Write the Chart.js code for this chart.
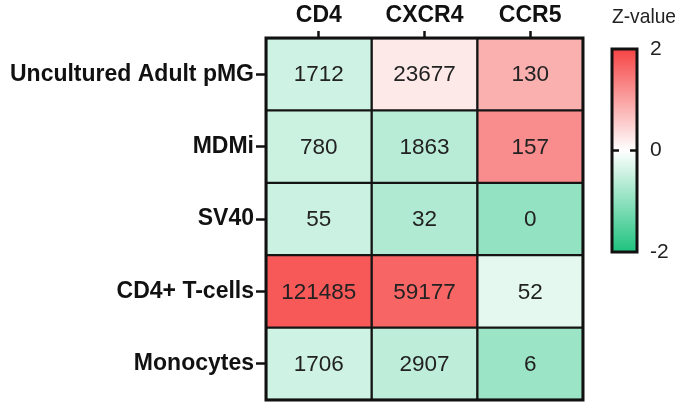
<!DOCTYPE html>
<html><head><meta charset="utf-8">
<script src="https://cdn.jsdelivr.net/npm/chart.js@4/dist/chart.umd.min.js"></script>
<style>
html,body{margin:0;padding:0;background:#fff;}
#wrap{position:relative;width:685px;height:408px;overflow:hidden;}
#main{position:absolute;left:0;top:0;}
#cbar{position:absolute;left:590px;top:0;}
</style></head><body>
<div id="wrap">
<canvas id="main" width="600" height="408"></canvas>
<canvas id="cbar" width="95" height="280"></canvas>
</div>
<script>
// ---- data ----
const genes = ['CD4', 'CXCR4', 'CCR5'];
const cellTypes = ['Uncultured Adult pMG', 'MDMi', 'SV40', 'CD4+ T-cells', 'Monocytes'];
const cd4Values = [1712, 780, 55, 121485, 1706];
const cxcr4Values = [23677, 1863, 32, 59177, 2907];
const ccr5Values = [130, 157, 0, 52, 6];
// Z-values (colour)
const cd4Z = [-0.44, -0.46, -0.47, 1.79, -0.44];
const cxcr4Z = [0.24, -0.62, -0.69, 1.65, -0.58];
const ccr5Z = [0.85, 1.23, -0.96, -0.24, -0.88];
const zTicks = [2, 0, -2];
const zMin = -2, zMax = 2;

const valueCols = [cd4Values, cxcr4Values, ccr5Values];
const zCols = [cd4Z, cxcr4Z, ccr5Z];

const RED = [246, 68, 68], GREEN = [30, 194, 126], WHITE = [255, 255, 255];
function mix(a, b, t) { return a.map((v, i) => Math.round(v + (b[i] - v) * t)); }
function zColor(z) {
  const t = Math.max(-1, Math.min(1, z / zMax));
  const c = t >= 0 ? mix(WHITE, RED, t) : mix(WHITE, GREEN, -t);
  return `rgb(${c[0]},${c[1]},${c[2]})`;
}

const FONT = "'Liberation Sans', Arial, sans-serif";
Chart.defaults.font.family = FONT;
Chart.defaults.color = '#222';

const datasets = cellTypes.map((ct, r) => ({
  label: ct,
  data: genes.map(() => [r - 0.5, r + 0.5]),
  backgroundColor: genes.map((g, c) => zColor(zCols[c][r])),
  borderColor: '#151515',
  borderWidth: 1.5,
  borderSkipped: false,
  barPercentage: 1,
  categoryPercentage: 1,
  grouped: false
}));

const cellText = {
  id: 'cellText',
  afterDatasetsDraw(chart) {
    const ctx = chart.ctx;
    ctx.save();
    ctx.font = `22.5px ${FONT}`;
    ctx.fillStyle = '#222';
    ctx.textAlign = 'center';
    ctx.textBaseline = 'middle';
    chart.data.datasets.forEach((ds, r) => {
      chart.getDatasetMeta(r).data.forEach((bar, c) => {
        const p = bar.getCenterPoint();
        ctx.fillText(String(valueCols[c][r]), p.x, p.y + 1);
      });
    });
    const a = chart.chartArea;
    ctx.lineWidth = 3;
    ctx.strokeStyle = '#111';
    ctx.strokeRect(a.left, a.top, a.right - a.left, a.bottom - a.top);
    ctx.restore();
  }
};

new Chart(document.getElementById('main'), {
  type: 'bar',
  data: { labels: genes, datasets },
  options: {
    responsive: false,
    animation: false,
    layout: { padding: { left: 0, top: 0, right: 17, bottom: 8 } },
    plugins: { legend: { display: false }, tooltip: { enabled: false } },
    scales: {
      x: {
        type: 'category',
        position: 'top',
        offset: true,
        grid: { offset: false, drawOnChartArea: false, drawTicks: true, tickLength: 7, tickWidth: 2.5, tickColor: '#111' },
        border: { display: false },
        ticks: { font: { size: 23, weight: 'bold' }, color: '#111', padding: 2, maxRotation: 0 },
        afterFit: s => { s.height = 38; s.paddingLeft = 0; s.paddingRight = 0; }
      },
      y: {
        type: 'linear',
        min: -0.5, max: 4.5,
        reverse: true,
        afterBuildTicks: s => { s.ticks = cellTypes.map((_, i) => ({ value: i })); },
        grid: { drawOnChartArea: false, drawTicks: true, tickLength: 10, tickWidth: 2.5, tickColor: '#111' },
        border: { display: false },
        ticks: { font: { size: 23, weight: 'bold' }, color: '#111', padding: 2, callback: v => cellTypes[v] },
        afterFit: s => { s.width = 266; s.paddingTop = 0; s.paddingBottom = 0; }
      }
    }
  },
  plugins: [cellText]
});

// ---- colour bar ----
const cbarFrame = {
  id: 'cbarFrame',
  afterDatasetsDraw(chart) {
    const ctx = chart.ctx, a = chart.chartArea, y = chart.scales.y;
    ctx.save();
    ctx.strokeStyle = '#111';
    ctx.lineWidth = 2.5;
    ctx.setLineDash([7, 11]);
    const y0 = y.getPixelForValue(0);
    ctx.beginPath(); ctx.moveTo(a.left, y0); ctx.lineTo(a.right, y0); ctx.stroke();
    ctx.setLineDash([]);
    ctx.lineWidth = 3;
    ctx.strokeRect(a.left, a.top, a.right - a.left, a.bottom - a.top);
    ctx.restore();
  }
};

new Chart(document.getElementById('cbar'), {
  type: 'bar',
  data: {
    labels: ['Z'],
    datasets: [{
      data: [[zMin, zMax]],
      barPercentage: 1, categoryPercentage: 1, borderWidth: 0,
      backgroundColor: (ctx) => {
        const ch = ctx.chart, a = ch.chartArea;
        if (!a) return zColor(0);
        const ys = ch.scales.y;
        const g = ch.ctx.createLinearGradient(0, ys.getPixelForValue(zMin), 0, ys.getPixelForValue(zMax));
        g.addColorStop(0, zColor(zMin));
        g.addColorStop(0.5, zColor(0));
        g.addColorStop(1, zColor(zMax));
        return g;
      }
    }]
  },
  options: {
    responsive: false,
    animation: false,
    layout: { padding: { left: 22, top: 0, right: 9, bottom: 28 } },
    plugins: {
      legend: { display: false }, tooltip: { enabled: false },
      title: { display: true, text: 'Z-value', font: { size: 21, weight: 'normal', lineHeight: 1.2 }, color: '#222', padding: { top: 5, bottom: 18.8 } }
    },
    scales: {
      x: { display: false, offset: true },
      y: {
        type: 'linear', position: 'right', min: zMin, max: zMax,
        afterBuildTicks: s => { s.ticks = zTicks.map(v => ({ value: v })); },
        grid: { display: false, drawTicks: false },
        border: { display: false },
        ticks: { font: { size: 21 }, color: '#222', padding: 13 },
        afterFit: s => { s.width = 39; s.paddingTop = 0; s.paddingBottom = 0; }
      }
    }
  },
  plugins: [cbarFrame]
});
</script>
</body></html>
